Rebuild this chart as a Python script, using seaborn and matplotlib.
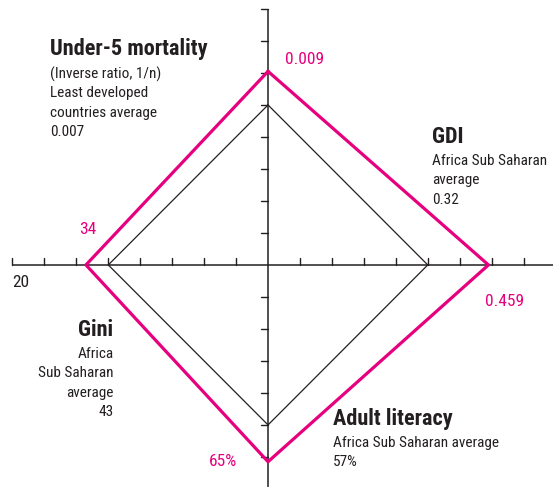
import matplotlib
matplotlib.use("Agg")
import matplotlib.pyplot as plt
import seaborn as sns
import pandas as pd
import numpy as np
import logging
from matplotlib import font_manager

logging.getLogger("matplotlib.font_manager").setLevel(logging.ERROR)
sns.set_theme(style="white")
names = {f.name for f in font_manager.fontManager.ttflist}
cands = ["Roboto Condensed", "Liberation Sans Narrow", "Roboto", "DejaVu Sans"]
FAM = [c for c in cands if c in names] or ["DejaVu Sans"]
NARROW = FAM[0] in ("Roboto Condensed", "Liberation Sans Narrow")
plt.rcParams["font.family"] = FAM

# Axes order: up, right, down, left
indicators = ["Under-5 mortality", "GDI", "Adult literacy", "Gini"]
directions = [(0, 1), (1, 0), (0, -1), (-1, 0)]
# vertex positions on the chart's tick scale
average_pos = [5.0, 5.0, 5.0, 5.0]
country_pos = [6.05, 6.9, 6.15, 5.7]
country_labels = ["0.009", "0.459", "65%", "34"]
axis_end_label = "20"

MAG = "#E6007E"
TXT = "#231F20"

rows = []
for series, pos in [("average", average_pos), ("country", country_pos)]:
    pts = list(zip(pos, directions)) + [(pos[0], directions[0])]
    for i, (r, (dx, dy)) in enumerate(pts):
        rows.append({"series": series, "order": i, "x": r * dx, "y": r * dy})
df = pd.DataFrame(rows)

fig = plt.figure(figsize=(5.53, 4.87), dpi=100)
ax = fig.add_axes([0, 0, 1, 1])
ax.set_xlim(-8.39, 8.92)
ax.set_ylim(-6.94, 8.28)
ax.axis("off")

# axes
ax.plot([-8, 8.92], [0, 0], color=TXT, lw=1.1, solid_capstyle="butt")
ax.plot([0, 0], [-6.94, 8.0], color=TXT, lw=1.1, solid_capstyle="butt")
tl = 0.22
for k in range(1, 9):
    for s in (-1, 1):
        ax.plot([s * k, s * k], [0, tl], color=TXT, lw=1.0)
for k in list(range(1, 9)) + list(range(-6, 0)):
    ax.plot([-tl, 0], [k, k], color=TXT, lw=1.0)

sns.lineplot(data=df[df.series == "average"], x="x", y="y", sort=False, ax=ax,
             color=TXT, lw=0.9, legend=False, estimator=None)
sns.lineplot(data=df[df.series == "country"], x="x", y="y", sort=False, ax=ax,
             color=MAG, lw=2.3, legend=False, estimator=None)

def px(x, y):
    return ((x - 267.7) / 31.95, (265 - y) / 32.0)

def txt(x, y, s, ha="left", bold=False, color=TXT, size=10.5):
    X, Y = px(x, y)
    ax.text(X, Y, s, ha=ha, va="center", color=color, fontsize=size,
            fontweight="bold" if bold else "normal")

if NARROW:
    BS, RS, MS = 16, 11, 12.5
else:
    BS, RS, MS = 13, 9.6, 11
# Under-5
txt(50, 49, indicators[0], bold=True, size=BS)
for i, s in enumerate(["(Inverse ratio, 1/n)", "Least developed", "countries average", "0.007"]):
    txt(50, 74 + 19.3 * i, s, size=RS)
txt(285, 60, country_labels[0], color=MAG, size=MS)
# GDI
txt(432, 137, indicators[1], bold=True, size=BS)
for i, s in enumerate(["Africa Sub Saharan", "average", "0.32"]):
    txt(432, 161 + 19.3 * i, s, size=RS)
txt(485, 302, country_labels[1], color=MAG, size=MS)
# Adult literacy
txt(333, 419, indicators[2], bold=True, size=BS)
for i, s in enumerate(["Africa Sub Saharan average", "57%"]):
    txt(333, 443 + 19.3 * i, s, size=RS)
txt(237, 462, country_labels[2], ha="right", color=MAG, size=MS)
# Gini
txt(113, 330, indicators[3], ha="right", bold=True, size=BS)
for i, s in enumerate(["Africa", "Sub Saharan", "average", "43"]):
    txt(113, 354 + 19.3 * i, s, ha="right", size=RS)
txt(96, 230, country_labels[3], ha="right", color=MAG, size=MS)
txt(12, 283, axis_end_label, size=MS)

fig.savefig("out.png", dpi=100)
